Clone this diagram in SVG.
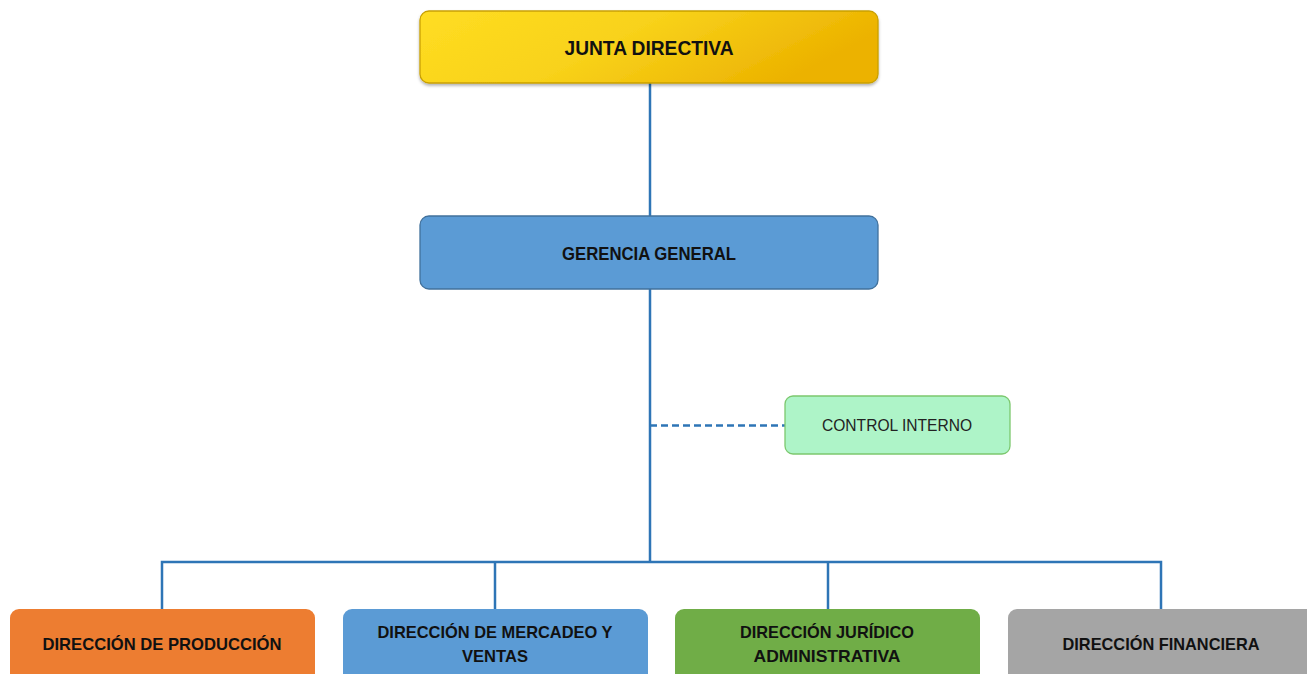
<svg xmlns="http://www.w3.org/2000/svg" width="1307" height="674" viewBox="0 0 1307 674">
<defs>
<linearGradient id="gold" x1="0" y1="0" x2="1" y2="0.3">
<stop offset="0" stop-color="#FFDD22"/>
<stop offset="0.5" stop-color="#F8D21A"/>
<stop offset="1" stop-color="#ECB200"/>
</linearGradient>
<filter id="sh" x="-5%" y="-20%" width="110%" height="150%">
<feDropShadow dx="0" dy="2" stdDeviation="1.5" flood-color="#000" flood-opacity="0.3"/>
</filter>
<style>
.conn{fill:none;stroke:#2E75B6;stroke-width:2.5}
.dash{stroke-dasharray:7 4}
.bx{stroke-width:1.3}
.t{font-family:"Liberation Sans",Arial,sans-serif;font-weight:bold;fill:#111;text-anchor:middle}
.n{font-family:"Liberation Sans",Arial,sans-serif;fill:#222;text-anchor:middle}
</style>
</defs>
<rect width="1307" height="674" fill="#fff"/>
<g id="connectors">
<path class="conn" d="M650 83V216"/>
<path class="conn" d="M650 289V562"/>
<path class="conn" d="M162 609V562H1161V609"/>
<path class="conn" d="M495 562V609"/>
<path class="conn" d="M828 562V609"/>
<path class="conn dash" d="M650 425.5H785"/>
</g>
<g id="junta-directiva">
<rect class="bx" x="420" y="11" width="458" height="72" rx="9" fill="url(#gold)" stroke="#C9A000" filter="url(#sh)"/>
<text class="t" x="649" y="54.5" font-size="20" textLength="169" lengthAdjust="spacingAndGlyphs">JUNTA DIRECTIVA</text>
</g>
<g id="gerencia-general">
<rect class="bx" x="420" y="216" width="458" height="73" rx="9" fill="#5B9BD5" stroke="#41719C"/>
<text class="t" x="649" y="260" font-size="19" textLength="174" lengthAdjust="spacingAndGlyphs">GERENCIA GENERAL</text>
</g>
<g id="control-interno">
<rect class="bx" x="785" y="396" width="225" height="58" rx="8" fill="#AEF4C8" stroke="#7CC86E"/>
<text class="n" x="897" y="431" font-size="16" textLength="150" lengthAdjust="spacingAndGlyphs">CONTROL INTERNO</text>
</g>
<g id="direccion-produccion">
<rect x="10" y="609" width="305" height="80" rx="9" fill="#ED7D31"/>
<text class="t" x="162" y="650" font-size="17" textLength="239" lengthAdjust="spacingAndGlyphs">DIRECCIÓN DE PRODUCCIÓN</text>
</g>
<g id="direccion-mercadeo">
<rect x="343" y="609" width="305" height="80" rx="9" fill="#5B9BD5"/>
<text class="t" x="495" y="638" font-size="17" textLength="235" lengthAdjust="spacingAndGlyphs">DIRECCIÓN DE MERCADEO Y</text>
<text class="t" x="495" y="662" font-size="17" textLength="66" lengthAdjust="spacingAndGlyphs">VENTAS</text>
</g>
<g id="direccion-juridico">
<rect x="675" y="609" width="305" height="80" rx="9" fill="#70AD47"/>
<text class="t" x="827" y="638" font-size="17" textLength="174" lengthAdjust="spacingAndGlyphs">DIRECCIÓN JURÍDICO</text>
<text class="t" x="827" y="662" font-size="17" textLength="147" lengthAdjust="spacingAndGlyphs">ADMINISTRATIVA</text>
</g>
<g id="direccion-financiera">
<rect x="1008" y="609" width="310" height="80" rx="9" fill="#A5A5A5"/>
<text class="t" x="1161" y="650" font-size="17" textLength="197" lengthAdjust="spacingAndGlyphs">DIRECCIÓN FINANCIERA</text>
</g>
</svg>
